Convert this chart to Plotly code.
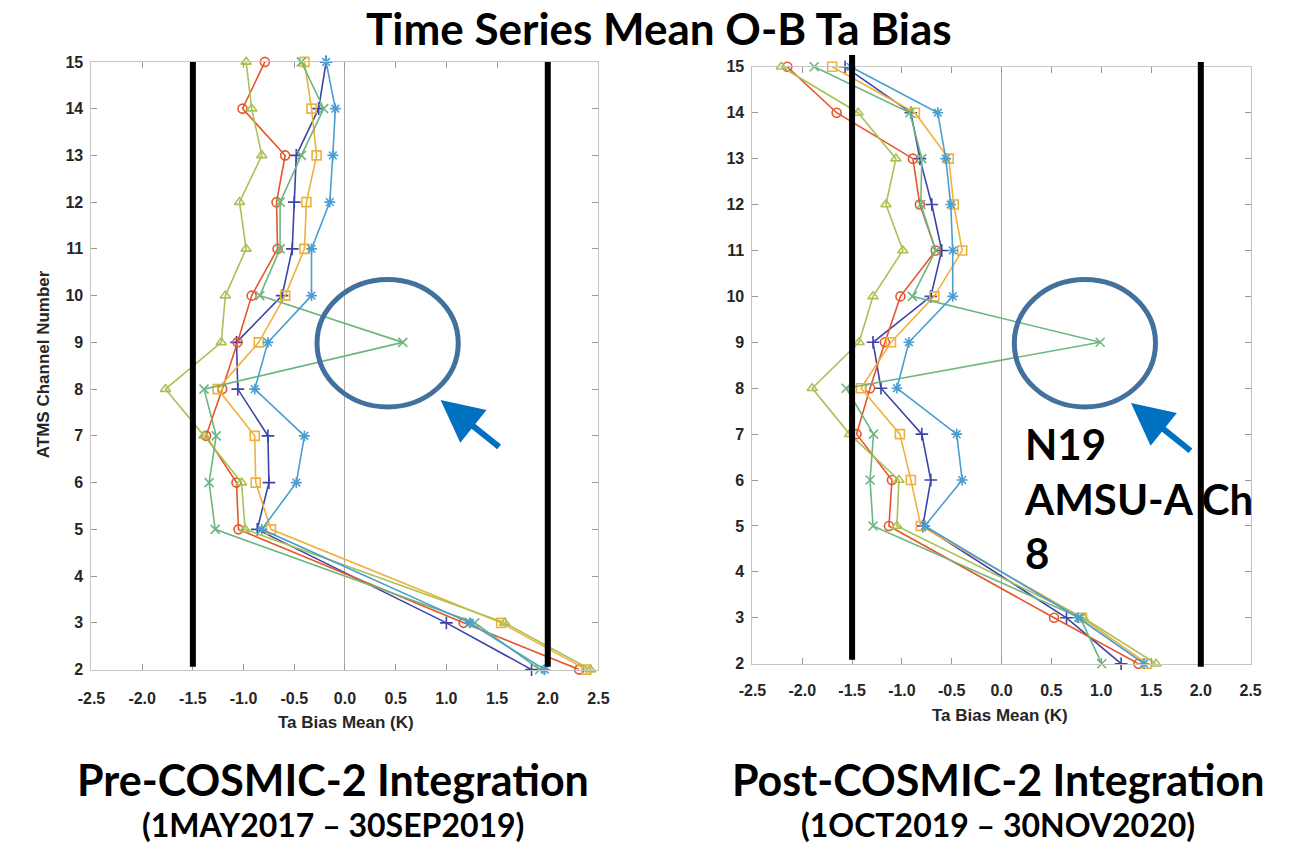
import plotly.graph_objects as go

W, H = 1294, 855

channels = [2, 3, 5, 6, 7, 8, 9, 10, 11, 12, 13, 14, 15]

# Pre-COSMIC-2 (left panel)
pre_blue_plus = [1.84, 1.00, -0.865, -0.75, -0.76, -1.057, -1.07, -0.62, -0.52, -0.50, -0.48, -0.26, -0.186]
pre_red_circle = [2.31, 1.17, -1.05, -1.07, -1.37, -1.21, -1.06, -0.92, -0.665, -0.675, -0.59, -1.01, -0.79]
pre_yellow_square = [2.38, 1.54, -0.73, -0.88, -0.89, -1.255, -0.85, -0.59, -0.40, -0.38, -0.28, -0.33, -0.40]
pre_lime_triangle = [2.42, 1.575, -0.985, -1.02, -1.39, -1.77, -1.22, -1.18, -0.975, -1.04, -0.82, -0.92, -0.975]
pre_green_x = [1.92, 1.28, -1.28, -1.34, -1.27, -1.39, 0.57, -0.84, -0.64, -0.64, -0.43, -0.21, -0.43]
pre_cyan_star = [1.97, 1.23, -0.82, -0.48, -0.40, -0.89, -0.76, -0.33, -0.33, -0.15, -0.12, -0.095, -0.186]

# Post-COSMIC-2 (right panel)
post_blue_plus = [1.20, 0.652, -0.79, -0.71, -0.80, -1.21, -1.29, -0.71, -0.60, -0.70, -0.82, -0.91, -1.57]
post_red_circle = [1.374, 0.527, -1.13, -1.10, -1.455, -1.32, -1.17, -1.015, -0.66, -0.82, -0.89, -1.655, -2.15]
post_yellow_square = [1.46, 0.807, -0.81, -0.91, -1.02, -1.41, -1.11, -0.675, -0.395, -0.48, -0.53, -0.87, -1.70]
post_lime_triangle = [1.55, 0.82, -1.05, -1.03, -1.525, -1.90, -1.43, -1.29, -0.99, -1.16, -1.06, -1.44, -2.21]
post_green_x = [1.005, 0.79, -1.29, -1.32, -1.285, -1.56, 0.99, -0.895, -0.66, -0.81, -0.80, -0.92, -1.88]
post_cyan_star = [1.43, 0.77, -0.77, -0.395, -0.45, -1.05, -0.93, -0.49, -0.49, -0.51, -0.56, -0.64, -1.515]

x_ticks = [-2.5, -2.0, -1.5, -1.0, -0.5, 0.0, 0.5, 1.0, 1.5, 2.0, 2.5]
y_ticks = list(range(2, 16))
limit_lines = [-1.5, 2.0]

styles = [
    ("#3b44a8", "cross-thin-open"),
    ("#e5562b", "circle-open"),
    ("#efb13c", "square-open"),
    ("#a9c255", "triangle-up-open"),
    ("#6db680", "x-thin-open"),
    ("#4a9ed0", "asterisk-open"),
]

pre = [pre_blue_plus, pre_red_circle, pre_yellow_square, pre_lime_triangle, pre_green_x, pre_cyan_star]
post = [post_blue_plus, post_red_circle, post_yellow_square, post_lime_triangle, post_green_x, post_cyan_star]

fig = go.Figure()

for data, xa, ya in [(pre, "x", "y"), (post, "x2", "y2")]:
    for vals, (col, sym) in zip(data, styles):
        fig.add_trace(go.Scatter(
            x=vals, y=channels, xaxis=xa, yaxis=ya, mode="lines+markers",
            line=dict(color=col, width=1.6),
            marker=dict(symbol=sym, size=9, color=col, line=dict(color=col, width=1.6)),
            cliponaxis=False, showlegend=False,
        ))

def px_x(p):
    return p / W

def px_y(p):
    return 1 - p / H

tickfont = dict(family="Liberation Sans", size=16, color="#262626", weight="bold")
axis_common = dict(
    showgrid=False, showline=True, mirror="ticks", linecolor="#c4c4c4", linewidth=1,
    ticks="inside", ticklen=6, tickcolor="#9a9a9a", tickfont=tickfont,
)

fig.update_layout(
    width=W, height=H, margin=dict(l=0, r=0, t=0, b=0),
    paper_bgcolor="white", plot_bgcolor="white",
    xaxis=dict(domain=[px_x(79), px_x(596)], range=[-2.5, 2.5], tickvals=x_ticks,
               ticktext=[f"{v:.1f}" for v in x_ticks], anchor="y", ticklabelstandoff=14,
               zeroline=True, zerolinecolor="#a8a8a8", zerolinewidth=1, **axis_common),
    yaxis=dict(domain=[px_y(675), px_y(55)], range=[2, 15], tickvals=y_ticks, anchor="x",
               ticklabelstandoff=4, zeroline=False, **axis_common),
    xaxis2=dict(domain=[px_x(753), px_x(1261)], range=[-2.5, 2.5], tickvals=x_ticks,
                ticktext=[f"{v:.1f}" for v in x_ticks], anchor="y2", ticklabelstandoff=12,
                zeroline=True, zerolinecolor="#a8a8a8", zerolinewidth=1, **axis_common),
    yaxis2=dict(domain=[px_y(669), px_y(60)], range=[2, 15], tickvals=y_ticks, anchor="x2",
                ticklabelstandoff=4, zeroline=False, **axis_common),
)

# thick black limit lines
shapes = []
for v in limit_lines:
    shapes.append(dict(type="line", xref="x", yref="paper", x0=v, x1=v,
                       y0=px_y(672), y1=px_y(55), line=dict(color="black", width=6)))
shapes.append(dict(type="line", xref="x2", yref="paper", x0=limit_lines[0], x1=limit_lines[0],
                   y0=px_y(665), y1=px_y(48), line=dict(color="black", width=6)))
shapes.append(dict(type="line", xref="x2", yref="paper", x0=limit_lines[1], x1=limit_lines[1],
                   y0=px_y(672), y1=px_y(55), line=dict(color="black", width=6)))
# circles
for cx in [381, 1092]:
    shapes.append(dict(type="circle", xref="paper", yref="paper",
                       x0=px_x(cx - 72), x1=px_x(cx + 72), y0=px_y(342 + 65), y1=px_y(342 - 65),
                       line=dict(color="#41719c", width=5)))
fig.update_layout(shapes=shapes)

title_font = "Lato"

def text_ann(text, x, y, size, family=title_font, color="black", **kw):
    d = dict(text=text, x=px_x(x), y=px_y(y), xref="paper", yref="paper",
             xanchor="center", yanchor="middle", showarrow=False,
             font=dict(family=family, size=size, color=color, weight="bold"))
    d.update(kw)
    return d

ann = [
    text_ann("Time Series Mean O-B Ta Bias", 658, 20, 44),
    text_ann("Pre-COSMIC-2 Integration", 325, 787, 43),
    text_ann("(1MAY2017 – 30SEP2019)", 325, 833, 32),
    text_ann("Post-COSMIC-2 Integration", 1003, 787, 43),
    text_ann("(1OCT2019 – 30NOV2020)", 1003, 833, 32),
    text_ann("N19<br>AMSU-A Ch<br>8", 1028, 500, 42, xanchor="left", align="left"),
    text_ann("ATMS Channel Number", 30, 363, 17, family="Liberation Sans", color="#262626", textangle=-90),
    text_ann("Ta Bias Mean (K)", 339, 729, 17, family="Liberation Sans", color="#262626"),
    text_ann("Ta Bias Mean (K)", 1005, 722, 17, family="Liberation Sans", color="#262626"),
]
# arrows
for (tx, ty, sx, sy) in [(435, 400, 495, 448), (1139, 403, 1200, 452)]:
    ann.append(dict(text="", x=px_x(tx), y=px_y(ty), xref="paper", yref="paper",
                    ax=sx - tx, ay=sy - ty, axref="pixel", ayref="pixel",
                    showarrow=True, arrowhead=2, arrowsize=1.4, arrowwidth=6, arrowcolor="#0070c0"))
fig.update_layout(annotations=ann)

fig.write_html("out.html")
